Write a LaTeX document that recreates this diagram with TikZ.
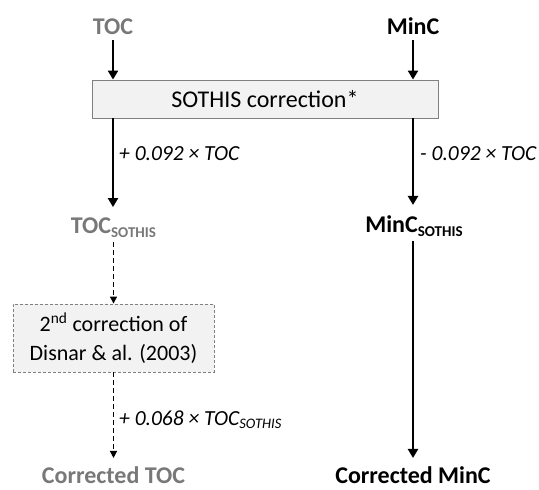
\documentclass[tikz,border=0pt]{standalone}
\usepackage{fontspec}
\setmainfont{Carlito}
\usetikzlibrary{arrows.meta}
\definecolor{txtgray}{HTML}{787878}
\definecolor{boxfill}{HTML}{F2F2F2}
\definecolor{boxline}{HTML}{808080}
\newcommand{\sothsub}{\raisebox{-4pt}{\fontsize{15}{15}\selectfont SOTHIS}}
\begin{document}
\begin{tikzpicture}[x=1pt,y=-1pt,
  lbl/.style={inner sep=0pt, font=\fontsize{24}{28}\selectfont\bfseries, anchor=base},
  graylbl/.style={lbl, text=txtgray},
  blacklbl/.style={lbl, text=black},
  formula/.style={inner sep=0pt, anchor=base west, font=\fontsize{21.5}{24}\selectfont\itshape},
  solidarrow/.style={line width=2.6pt, -{Triangle[length=9pt,width=10pt]}},
  dasharrow/.style={line width=1.4pt, dash pattern=on 5pt off 3pt, -{Triangle[length=7pt,width=7pt]}},
  mainbox/.style={draw=boxline, fill=boxfill, line width=0.9pt, minimum width=346pt, minimum height=38pt, inner sep=0pt, font=\fontsize{24}{28}\selectfont},
  dashbox/.style={draw=boxline, fill=boxfill, line width=0.9pt, dash pattern=on 3pt off 2pt, minimum width=201pt, minimum height=68pt, inner sep=0pt, align=center, font=\fontsize{22}{29}\selectfont}
]
\useasboundingbox (0,0) rectangle (539,490);

\node[graylbl] (toc) at (113,34) {TOC};
\node[blacklbl] (minc) at (413,34) {MinC};
\node[mainbox] (soth) at (265,99) {SOTHIS correction*};

\node[graylbl] (tocs) at (113.5,233) {TOC\sothsub};
\node[blacklbl] (mincs) at (414,232) {MinC\sothsub};

\node[dashbox] (disnar) at (113.5,338) {2\textsuperscript{nd} correction of\\Disnar \& al. (2003)};

\node[graylbl] (ctoc) at (113.5,483) {Corrected TOC};
\node[blacklbl] (cminc) at (413,483) {Corrected MinC};

\draw[solidarrow, shorten <=6pt] (toc.south) -- (toc.south |- soth.north);
\draw[solidarrow, shorten <=6pt] (minc.south) -- (minc.south |- soth.north);

\draw[solidarrow, shorten >=10pt] (soth.south -| toc.south) -- (tocs.north -| toc.south);
\draw[solidarrow, shorten >=10pt] (soth.south -| minc.south) -- (mincs.north -| minc.south);

\node[formula] (f1) at (119,160) {+ 0.092 × TOC};
\node[formula] (f2) at (420,160) {- 0.092 × TOC};

\draw[dasharrow, shorten <=5pt] (tocs.south) -- (disnar.north);
\draw[dasharrow, shorten >=8pt] (disnar.south) -- (ctoc.north);
\draw[solidarrow, shorten <=5pt, shorten >=8pt] (mincs.south -| minc.south) -- (cminc.north -| minc.south);

\node[formula] (f3) at (119,425) {+ 0.068 × TOC\raisebox{-3.5pt}{\fontsize{14.5}{14.5}\selectfont SOTHIS}};
\end{tikzpicture}
\end{document}
